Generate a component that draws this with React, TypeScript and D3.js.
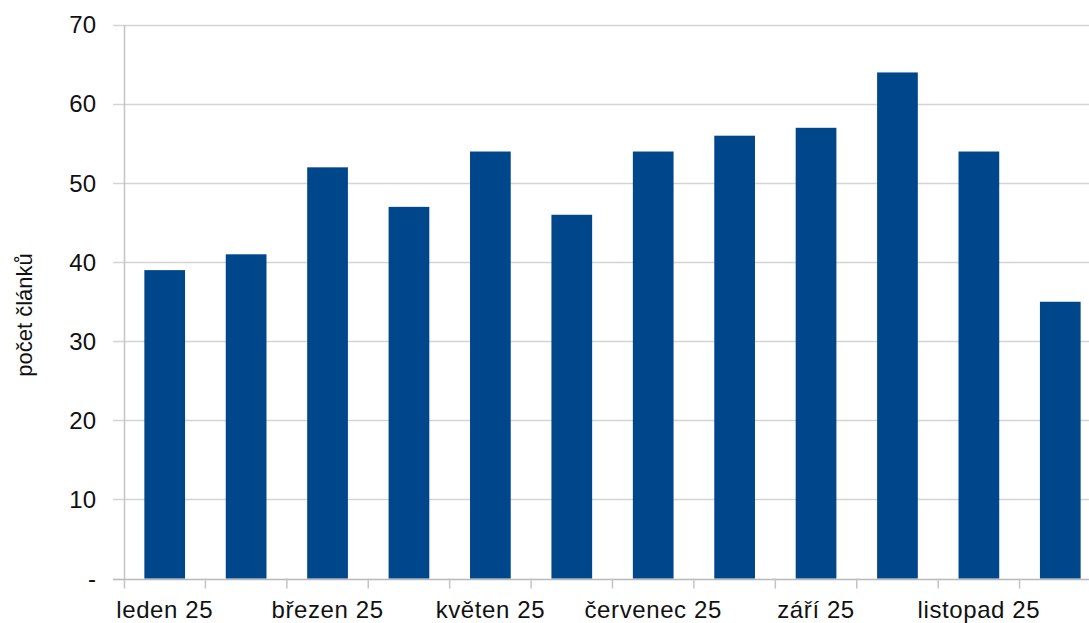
import React from "react";
import * as d3 from "d3";

const months = ["leden 25","únor 25","březen 25","duben 25","květen 25","červen 25","červenec 25","srpen 25","září 25","říjen 25","listopad 25","prosinec 25"];
const counts = [39, 41, 52, 47, 54, 46, 54, 56, 57, 64, 54, 35];
const yTicks = [0, 10, 20, 30, 40, 50, 60, 70];
const yTitle = "počet článků";

export default function App() {
  const W = 1089, H = 623;
  const left = 124, right = 1101, top = 25, bottom = 578.5;
  const x = d3.scaleBand<string>().domain(months).range([left, right]).paddingInner(0.5).paddingOuter(0.25);
  const xCat = d3.scaleBand<string>().domain(months).range([left, right]);
  const y = d3.scaleLinear().domain([0, 70]).range([bottom, top]);
  const font = "'Liberation Sans', Arial, sans-serif";
  return (
    <svg width={W} height={H} style={{ position: "absolute", left: 0, top: 0, overflow: "hidden", background: "#fff" }}>
      {yTicks.map((t) => (
        <g key={t}>
          <line x1={113} x2={right} y1={Math.round(y(t)) + 0.5} y2={Math.round(y(t)) + 0.5} stroke={t === 0 ? "#b8b8b8" : "#d4d4d4"} strokeWidth={1.5} />
          <text x={96} y={y(t)} dy="0.35em" textAnchor="end" fontFamily={font} fontSize={24} fill="#111">
            {t === 0 ? "-" : d3.format("d")(t)}
          </text>
        </g>
      ))}
      <line x1={124.5} x2={124.5} y1={top} y2={bottom + 10} stroke="#c4c4c4" strokeWidth={1.5} />
      {months.map((m, i) => (
        <line key={"t" + i} x1={(xCat(m) as number) + xCat.bandwidth()} x2={(xCat(m) as number) + xCat.bandwidth()} y1={bottom} y2={bottom + 10} stroke="#c4c4c4" strokeWidth={1.5} />
      ))}
      {months.map((m, i) => (
        <rect key={m} x={x(m)} y={y(counts[i])} width={x.bandwidth()} height={bottom - y(counts[i])} fill="#00468b" />
      ))}
      {months.map((m, i) =>
        i % 2 === 0 ? (
          <text key={"l" + i} x={(xCat(m) as number) + xCat.bandwidth() / 2} y={618} textAnchor="middle" fontFamily={font} fontSize={24} letterSpacing={0.6} fill="#111">
            {m}
          </text>
        ) : null
      )}
      <text transform={`translate(32,315) rotate(-90)`} textAnchor="middle" fontFamily={font} fontSize={22} fill="#111">
        {yTitle}
      </text>
    </svg>
  );
}
